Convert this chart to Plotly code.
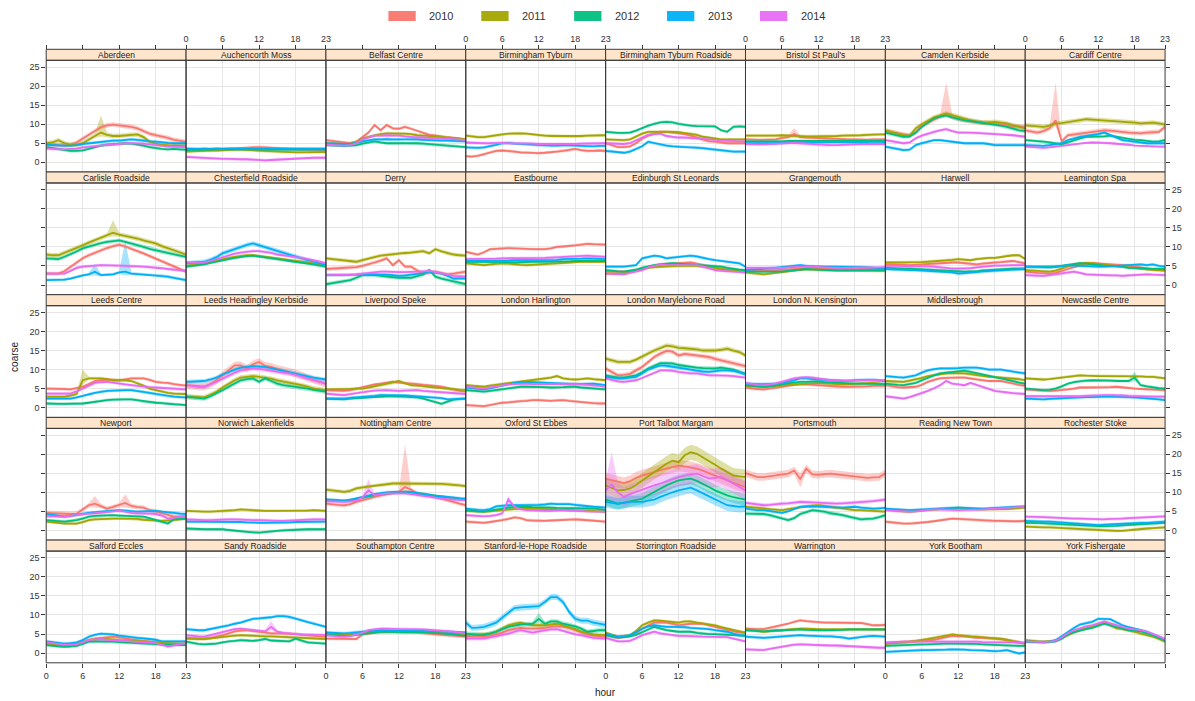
import plotly.graph_objects as go

W, H = 1195, 701
hours = list(range(24))
years = [2010, 2011, 2012, 2013, 2014]
year_colors = ["#F8766D", "#A3A500", "#00BF7D", "#00B0F6", "#E76BF3"]
x_ticks = [0, 6, 12, 18, 23]
y_ticks = [0, 5, 10, 15, 20, 25]

sites = [
    "Aberdeen", "Auchencorth Moss", "Belfast Centre", "Birmingham Tyburn",
    "Birmingham Tyburn Roadside", "Bristol St Paul's", "Camden Kerbside", "Cardiff Centre",
    "Carlisle Roadside", "Chesterfield Roadside", "Derry", "Eastbourne",
    "Edinburgh St Leonards", "Grangemouth", "Harwell", "Leamington Spa",
    "Leeds Centre", "Leeds Headingley Kerbside", "Liverpool Speke", "London Harlington",
    "London Marylebone Road", "London N. Kensington", "Middlesbrough", "Newcastle Centre",
    "Newport", "Norwich Lakenfields", "Nottingham Centre", "Oxford St Ebbes",
    "Port Talbot Margam", "Portsmouth", "Reading New Town", "Rochester Stoke",
    "Salford Eccles", "Sandy Roadside", "Southampton Centre", "Stanford-le-Hope Roadside",
    "Storrington Roadside", "Warrington", "York Bootham", "York Fishergate",
]

y2010 = {
    "Aberdeen": [4.8,4.6,4.5,4.4,4.6,5.2,6.2,7.4,8.4,9.2,9.7,9.9,9.7,9.5,9.3,8.9,8.2,7.5,7.1,6.8,6.4,5.9,5.6,5.4],
    "Auchencorth Moss": [3.4,3.4,3.3,3.3,3.4,3.5,3.5,3.6,3.6,3.7,3.8,3.9,4.0,3.9,3.8,3.6,3.5,3.4,3.3,3.3,3.3,3.3,3.2,3.2],
    "Belfast Centre": [5.8,5.6,5.4,5.1,5.0,5.4,6.6,7.8,9.8,8.4,9.8,8.9,8.8,9.3,8.8,8.2,7.8,7.2,7.0,6.7,6.5,6.4,6.2,6.0],
    "Birmingham Tyburn": [1.6,1.5,1.7,2.1,2.7,3.0,3.1,3.0,2.8,2.6,2.5,2.5,2.4,2.5,2.6,2.8,3.0,3.2,3.5,3.2,3.0,3.0,3.1,3.0],
    "Birmingham Tyburn Roadside": [5.0,4.4,4.0,4.0,4.2,5.0,6.2,7.0,7.5,8.0,8.0,7.8,7.6,7.4,7.0,6.5,5.8,5.5,5.4,5.2,5.0,5.0,5.0,5.0],
    "Bristol St Paul's": [6.0,5.9,5.9,5.9,6.0,6.0,6.4,6.6,7.4,6.6,6.5,6.4,6.4,6.3,6.2,6.1,6.0,6.0,6.0,5.9,5.9,6.0,6.0,6.0],
    "Camden Kerbside": [8.2,7.9,7.6,7.3,7.0,7.8,9.6,10.4,11.3,12.0,12.8,11.9,11.4,11.0,10.8,10.6,10.4,10.3,10.2,9.9,9.7,9.5,9.4,9.3],
    "Cardiff Centre": [8.4,8.0,7.8,8.2,8.9,11.0,5.5,7.1,7.3,7.6,7.8,7.9,8.1,8.4,8.3,8.1,8.0,7.8,7.7,7.6,7.8,7.9,8.0,9.3],
    "Carlisle Roadside": [3.0,3.0,3.0,3.6,4.8,6.0,7.0,7.8,8.5,9.1,9.7,10.2,10.6,10.1,9.6,8.9,8.3,7.6,7.0,6.3,5.7,4.9,4.2,3.5],
    "Chesterfield Roadside": None,
    "Derry": [4.2,4.3,4.3,4.4,4.5,4.7,5.0,5.4,5.9,6.4,7.0,5.2,6.5,4.8,4.8,3.8,3.0,3.2,3.5,3.1,2.8,3.0,3.3,3.5],
    "Eastbourne": [8.7,8.3,8.0,8.6,9.4,9.5,9.6,9.7,9.6,9.5,9.4,9.4,9.4,9.4,9.6,10.0,10.1,10.2,10.4,10.6,10.8,10.7,10.6,10.6],
    "Edinburgh St Leonards": [3.5,3.5,3.5,3.5,3.6,3.9,4.3,4.8,5.1,5.4,5.5,5.6,5.7,5.8,5.9,5.6,5.2,4.9,4.5,4.2,3.9,3.8,3.7,3.7],
    "Grangemouth": [3.7,3.7,3.7,3.7,3.8,3.9,4.0,4.1,4.3,4.4,4.5,4.5,4.4,4.4,4.3,4.3,4.3,4.4,4.4,4.4,4.5,4.4,4.3,4.2],
    "Harwell": [5.4,5.4,5.3,5.3,5.2,5.3,5.5,5.6,5.7,5.8,5.8,5.9,5.9,5.7,5.5,5.4,5.6,5.8,5.9,6.0,6.2,6.3,6.0,5.7],
    "Leamington Spa": [3.5,3.3,3.2,3.1,3.0,3.2,3.6,4.2,4.7,5.2,5.5,5.7,5.6,5.6,5.5,5.4,5.3,5.1,4.8,4.6,4.2,4.0,3.8,3.7],
    "Leeds Centre": [5.0,5.0,4.9,4.9,4.8,5.1,5.5,6.2,7.0,7.2,7.4,7.3,7.2,7.4,7.7,7.7,7.7,7.3,6.8,6.6,6.5,6.2,5.9,5.8],
    "Leeds Headingley Kerbside": [5.9,5.7,5.6,5.5,6.2,7.2,8.5,9.8,11.1,11.1,10.3,11.4,12.0,11.0,10.7,10.2,9.8,9.4,9.0,8.4,7.7,7.2,6.8,6.3],
    "Liverpool Speke": [4.6,4.5,4.4,4.4,4.6,5.0,5.4,5.9,6.1,6.3,6.6,6.8,6.6,6.5,6.3,6.2,6.0,5.9,5.7,5.5,5.1,4.6,4.4,4.2],
    "London Harlington": [0.7,0.6,0.5,0.4,0.7,1.1,1.3,1.4,1.6,1.7,1.8,2.0,2.0,1.9,1.8,1.9,2.0,1.8,1.6,1.5,1.3,1.2,1.1,1.1],
    "London Marylebone Road": [10.3,9.3,8.5,8.6,8.9,9.8,10.7,12.0,13.3,14.2,14.9,14.7,13.7,14.1,13.9,13.7,13.5,13.3,12.8,12.4,12.0,11.6,11.2,10.9],
    "London N. Kensington": [5.3,5.0,4.9,4.8,5.0,5.2,5.5,5.8,6.0,6.2,6.1,6.0,5.9,5.8,5.7,5.5,5.5,5.5,5.5,5.5,5.6,5.7,5.7,5.7],
    "Middlesbrough": [5.9,5.6,5.4,5.3,5.4,5.5,6.0,6.8,7.3,7.7,7.8,7.9,7.9,7.9,7.7,7.4,7.2,7.0,7.0,7.0,6.7,6.3,6.0,5.7],
    "Newcastle Centre": [4.8,4.7,4.5,4.4,4.4,4.5,4.6,4.8,5.0,5.3,5.3,5.3,5.3,5.4,5.4,5.5,5.3,5.2,5.0,4.9,4.8,4.8,4.7,4.6],
    "Newport": [4.6,4.5,4.4,4.3,4.3,4.4,5.5,6.6,7.0,6.4,5.7,6.2,6.6,7.2,6.4,6.1,6.0,5.3,5.0,4.6,4.1,3.6,3.6,3.7],
    "Norwich Lakenfields": None,
    "Nottingham Centre": [7.0,6.8,6.7,6.6,6.9,7.5,8.0,8.4,8.8,9.2,9.5,9.8,10.1,11.4,10.7,9.7,9.5,9.2,8.8,8.3,7.9,7.5,7.0,6.6],
    "Oxford St Ebbes": [2.3,2.2,2.1,2.0,2.2,2.4,2.7,3.0,3.4,3.2,2.7,2.6,2.5,2.5,2.6,2.7,2.8,2.9,2.9,2.8,2.7,2.6,2.5,2.3],
    "Port Talbot Margam": [13.6,13.2,12.7,12.4,12.9,13.8,14.4,14.8,15.3,15.8,16.2,16.6,17.0,16.8,16.6,16.2,15.7,15.1,14.4,13.8,13.1,12.4,11.8,11.4],
    "Portsmouth": [15.0,14.5,14.0,14.0,14.2,14.4,14.7,14.9,15.7,13.5,16.2,14.7,14.6,14.8,14.9,14.7,14.5,14.4,14.2,14.0,13.8,13.9,14.0,15.0],
    "Reading New Town": [2.3,2.1,1.9,1.8,1.8,1.9,2.0,2.2,2.4,2.7,2.9,3.1,3.0,2.9,2.8,2.7,2.6,2.5,2.5,2.5,2.4,2.4,2.4,2.5],
    "Rochester Stoke": None,
    "Salford Eccles": [2.3,2.1,1.9,1.7,1.8,2.1,2.7,3.4,3.8,4.0,4.2,4.3,4.1,3.8,3.6,3.4,3.2,3.0,2.8,2.5,2.4,2.3,2.3,2.3],
    "Sandy Roadside": [4.0,3.9,3.8,3.8,4.0,4.3,4.7,5.2,5.7,5.9,6.0,5.8,5.6,5.4,5.2,5.2,5.2,5.1,5.0,4.8,4.7,4.5,4.4,4.3],
    "Southampton Centre": [3.8,3.8,3.7,3.7,3.7,3.7,4.9,5.2,5.4,5.5,5.6,5.6,5.5,5.4,5.4,5.4,5.3,5.1,4.9,4.8,4.6,4.5,4.4,4.3],
    "Stanford-le-Hope Roadside": [4.3,4.3,4.3,4.3,4.5,4.9,5.4,6.0,6.3,6.6,6.5,6.4,6.5,6.6,6.9,7.1,6.9,6.6,6.0,5.4,4.9,4.6,4.4,4.3],
    "Storrington Roadside": [4.7,4.4,4.0,4.2,4.5,5.3,6.4,7.2,8.0,8.1,8.0,7.7,7.3,7.5,7.7,7.7,7.7,7.3,6.9,6.4,6.0,5.7,5.4,5.3],
    "Warrington": [6.4,6.3,6.3,6.3,6.6,6.9,7.3,7.7,8.2,8.6,8.4,8.2,8.1,8.0,8.0,8.0,8.0,8.0,7.9,7.9,7.6,7.3,7.3,7.4],
    "York Bootham": [2.5,2.6,2.7,2.8,2.9,3.0,3.1,3.3,3.5,3.8,4.2,4.5,4.4,4.4,4.2,4.0,4.0,3.9,3.8,3.7,3.4,3.2,2.9,2.6],
    "York Fishergate": None,
}

y2011 = {
    "Aberdeen": [5.0,5.2,5.8,5.0,4.6,4.6,5.0,6.0,7.0,7.8,7.2,6.9,6.9,7.0,7.2,7.3,6.6,5.4,4.9,4.6,4.5,4.5,4.4,4.4],
    "Auchencorth Moss": [2.8,2.9,3.0,3.0,3.1,3.1,3.2,3.3,3.3,3.3,3.2,3.1,3.0,3.0,2.9,2.8,2.7,2.6,2.6,2.6,2.6,2.7,2.7,2.7],
    "Belfast Centre": [5.0,4.9,4.9,4.8,4.9,5.3,6.3,6.7,7.0,7.4,7.6,7.6,7.5,7.5,7.4,7.1,7.0,6.9,6.9,6.7,6.5,6.4,6.2,6.0],
    "Birmingham Tyburn": [7.0,6.8,6.6,6.6,6.9,7.1,7.3,7.5,7.6,7.6,7.5,7.3,7.1,7.0,6.9,6.9,6.8,6.8,6.8,6.9,7.0,7.0,7.1,7.1],
    "Birmingham Tyburn Roadside": [6.0,5.9,5.8,5.8,6.0,6.8,7.5,8.0,8.0,8.1,8.0,8.0,7.9,7.6,7.5,7.2,6.7,6.4,6.2,6.0,6.0,6.0,6.0,6.0],
    "Bristol St Paul's": [7.0,7.0,6.9,6.9,7.0,7.0,7.1,7.0,6.9,6.8,6.8,6.8,6.8,6.8,6.8,6.9,7.0,7.0,7.1,7.1,7.2,7.3,7.3,7.3],
    "Camden Kerbside": [8.4,8.0,7.5,7.1,7.0,8.9,10.0,11.0,11.8,12.3,12.8,12.4,11.9,11.4,11.0,10.7,10.4,10.5,10.6,10.4,10.2,9.7,9.3,8.9],
    "Cardiff Centre": [9.7,9.6,9.5,9.3,9.6,10.2,10.3,10.6,10.8,11.0,11.3,11.2,11.1,11.0,10.9,10.8,10.6,10.5,10.4,10.2,10.3,10.4,10.2,9.9],
    "Carlisle Roadside": [8.0,7.8,7.8,8.4,9.1,9.8,10.4,11.1,11.7,12.4,13.0,13.7,13.2,12.9,12.6,12.2,11.7,11.3,10.9,10.2,9.6,9.0,8.5,8.0],
    "Chesterfield Roadside": [5.0,5.2,5.5,5.7,6.0,6.4,6.8,7.1,7.4,7.7,7.8,7.8,7.6,7.4,7.1,6.9,6.7,6.5,6.3,6.1,5.9,5.6,5.4,5.2],
    "Derry": [7.0,6.8,6.6,6.5,6.3,6.1,6.5,7.0,7.3,7.7,7.9,8.1,8.3,8.4,8.5,8.7,8.9,8.3,9.4,8.8,8.3,8.0,7.8,7.7],
    "Eastbourne": [5.7,5.5,5.4,5.2,5.4,5.6,5.7,5.6,5.4,5.3,5.2,5.3,5.4,5.5,5.7,5.7,5.8,5.9,6.1,6.1,6.1,6.1,6.1,6.1],
    "Edinburgh St Leonards": [3.0,3.0,3.0,3.0,3.4,3.8,4.2,4.5,4.7,4.8,4.9,5.0,5.0,5.0,5.0,5.0,4.8,4.6,4.3,4.1,4.0,3.9,3.7,3.5],
    "Grangemouth": [3.3,3.1,2.9,2.8,3.0,3.2,3.5,3.7,3.9,4.1,4.2,4.1,4.0,4.0,3.9,3.9,3.9,3.9,3.9,3.8,3.8,3.8,3.7,3.7],
    "Harwell": [5.9,5.9,5.9,5.9,5.9,6.0,6.0,6.1,6.2,6.3,6.5,6.6,6.8,6.7,6.5,6.8,7.0,7.1,7.1,7.3,7.7,7.8,7.8,6.8],
    "Leamington Spa": [3.9,3.8,3.7,3.7,3.5,3.8,4.3,5.0,5.4,5.6,5.8,5.7,5.5,5.3,5.1,5.0,4.8,4.6,4.5,4.3,4.1,4.0,3.9,3.9],
    "Leeds Centre": [2.9,2.9,2.9,2.9,3.2,3.6,7.2,7.7,7.7,7.7,7.5,7.2,7.2,7.2,7.0,6.5,5.8,5.0,4.6,4.2,3.9,3.7,3.6,3.6],
    "Leeds Headingley Kerbside": [2.9,2.8,2.7,2.7,3.4,4.2,5.3,6.3,7.2,7.9,8.1,8.3,8.1,7.9,7.6,7.2,6.9,6.5,6.2,5.9,5.5,5.0,4.8,4.6],
    "Liverpool Speke": [4.8,4.8,4.8,4.8,4.9,5.0,5.0,5.3,5.6,5.9,6.2,6.5,7.0,6.4,5.9,5.8,5.7,5.5,5.3,5.2,5.0,4.9,4.7,4.6],
    "London Harlington": [5.9,5.8,5.6,5.5,5.8,6.0,6.3,6.5,6.6,6.8,7.0,7.2,7.4,7.6,7.9,8.3,7.7,7.5,7.4,7.5,7.7,7.5,7.3,7.2],
    "London Marylebone Road": [12.9,12.4,12.0,12.0,12.0,12.6,13.3,14.2,15.0,15.7,16.3,16.1,15.7,15.6,15.5,15.3,15.0,15.0,15.0,15.2,15.5,15.0,14.6,13.7],
    "London N. Kensington": [5.7,5.6,5.6,5.5,5.6,5.7,5.8,6.0,6.1,6.2,6.3,6.4,6.5,6.4,6.3,6.1,6.1,6.2,6.3,6.4,6.4,6.5,6.3,6.1],
    "Middlesbrough": [7.0,6.9,6.8,6.8,7.1,7.4,7.8,8.3,8.6,8.8,9.0,9.1,9.1,9.0,8.8,8.5,8.3,8.1,8.0,7.9,7.8,7.7,7.5,7.2],
    "Newcastle Centre": [7.7,7.6,7.5,7.4,7.5,7.7,7.9,8.1,8.3,8.5,8.4,8.3,8.3,8.3,8.3,8.3,8.3,8.3,8.3,8.2,8.1,8.1,7.9,7.7],
    "Newport": [2.3,2.1,2.0,1.8,1.8,1.8,2.2,2.7,2.9,3.0,3.1,3.1,3.1,3.1,3.1,3.0,2.8,2.7,2.6,2.5,2.6,2.7,2.9,3.1],
    "Norwich Lakenfields": [5.1,5.0,5.0,4.9,4.9,5.0,5.0,5.1,5.3,5.5,5.4,5.2,5.1,5.1,5.1,5.1,5.1,5.1,5.1,5.2,5.2,5.3,5.2,5.1],
    "Nottingham Centre": [10.7,10.5,10.3,10.1,10.4,11.0,11.3,11.5,11.8,12.0,12.1,12.3,12.3,12.3,12.3,12.3,12.3,12.3,12.2,12.2,12.1,12.0,11.8,11.6],
    "Oxford St Ebbes": [5.1,5.0,4.9,4.9,5.0,5.2,5.4,5.5,5.6,5.7,5.7,5.7,5.7,5.6,5.6,5.5,5.4,5.3,5.3,5.2,5.2,5.1,5.0,4.9],
    "Port Talbot Margam": [11.8,11.2,10.5,10.6,11.0,11.9,13.1,14.2,15.3,16.4,17.5,18.3,17.9,19.7,20.5,20.1,19.2,18.3,17.2,16.2,15.3,14.4,14.2,14.0],
    "Portsmouth": [6.2,6.1,6.0,5.8,5.6,5.4,5.3,5.6,5.9,6.1,6.3,6.5,6.6,6.4,6.2,6.0,5.7,5.5,5.3,5.3,5.2,5.2,5.0,4.9],
    "Reading New Town": [5.5,5.3,5.1,5.0,4.9,5.0,5.2,5.4,5.5,5.6,5.7,5.8,5.9,5.8,5.6,5.5,5.5,5.5,5.6,5.6,5.6,5.7,5.8,6.0],
    "Rochester Stoke": [1.0,0.9,0.9,0.8,0.8,0.7,0.6,0.6,0.5,0.4,0.3,0.2,0.1,0.0,-0.1,-0.1,-0.1,0.1,0.3,0.4,0.5,0.6,0.7,0.8],
    "Salford Eccles": [2.5,2.4,2.3,2.2,2.3,2.4,2.9,3.4,3.6,3.8,3.7,3.5,3.4,3.3,3.2,3.1,3.0,2.9,2.8,2.7,2.6,2.5,2.5,2.5],
    "Sandy Roadside": [3.8,3.7,3.7,3.7,3.9,4.1,4.3,4.5,4.6,4.7,4.6,4.5,4.5,4.4,4.4,4.3,4.3,4.2,4.1,4.0,3.9,3.8,3.8,3.7],
    "Southampton Centre": [4.9,4.9,4.8,4.8,4.9,5.1,5.3,5.5,5.6,5.6,5.6,5.6,5.6,5.6,5.6,5.6,5.5,5.4,5.3,5.2,5.1,5.0,5.0,4.9],
    "Stanford-le-Hope Roadside": [4.7,4.8,4.9,4.9,5.1,5.6,6.4,7.3,7.7,8.0,7.6,7.3,7.3,7.3,7.5,7.7,7.3,6.9,6.3,5.6,5.2,4.9,4.8,4.7],
    "Storrington Roadside": [5.4,4.8,4.3,4.5,4.7,5.8,7.3,8.0,8.6,8.5,8.3,8.1,8.0,8.3,8.3,8.0,7.7,7.5,7.3,6.8,6.4,6.0,5.6,5.4],
    "Warrington": [6.3,6.0,5.8,5.6,5.8,6.0,6.0,6.2,6.3,6.4,6.4,6.3,6.2,6.2,6.2,6.2,6.2,6.2,6.2,6.2,6.2,6.2,6.2,6.2],
    "York Bootham": [2.5,2.6,2.7,2.8,3.0,3.2,3.4,3.7,4.0,4.3,4.6,4.9,4.7,4.5,4.4,4.3,4.1,4.0,3.9,3.8,3.5,3.1,2.8,2.5],
    "York Fishergate": [3.4,3.2,3.1,3.0,3.1,3.2,3.9,4.7,5.4,6.0,6.5,6.8,7.4,8.0,7.3,6.5,6.3,6.0,5.6,5.1,4.7,4.3,3.7,3.0],
}

y2012 = {
    "Aberdeen": [4.0,3.8,3.5,3.2,3.0,3.0,3.1,3.5,4.0,4.4,4.6,4.7,4.8,5.0,4.9,4.7,4.4,4.0,3.7,3.5,3.4,3.5,3.4,3.3],
    "Auchencorth Moss": [3.2,3.2,3.3,3.3,3.3,3.4,3.4,3.4,3.5,3.5,3.4,3.4,3.3,3.3,3.3,3.3,3.2,3.2,3.2,3.2,3.3,3.3,3.3,3.3],
    "Belfast Centre": [4.5,4.4,4.4,4.3,4.4,4.5,4.9,5.2,5.5,5.2,5.0,5.0,5.0,5.1,5.0,5.0,4.9,4.7,4.6,4.5,4.4,4.2,4.1,4.0],
    "Birmingham Tyburn": None,
    "Birmingham Tyburn Roadside": [8.0,7.8,7.7,7.7,7.8,8.3,9.0,9.6,10.1,10.5,10.6,10.5,10.1,9.8,9.6,9.5,9.5,9.5,9.4,8.4,8.0,9.3,9.4,9.3],
    "Bristol St Paul's": [5.5,5.5,5.4,5.4,5.4,5.5,5.5,5.6,5.6,5.6,5.6,5.5,5.5,5.5,5.5,5.5,5.5,5.6,5.6,5.6,5.6,5.6,5.6,5.6],
    "Camden Kerbside": [7.8,7.4,7.0,6.7,6.8,7.8,9.3,10.5,11.5,12.0,12.3,11.8,11.3,11.0,10.8,10.6,10.4,10.1,9.9,9.6,9.3,8.8,8.4,8.2],
    "Cardiff Centre": [5.8,5.7,5.6,5.4,5.2,5.0,4.7,5.2,5.8,6.3,6.7,6.7,6.7,6.8,7.0,6.7,6.3,6.0,5.9,5.8,5.6,5.4,5.5,5.8],
    "Carlisle Roadside": [7.0,6.9,6.8,7.4,8.0,8.8,9.6,10.1,10.6,11.0,11.3,11.5,11.7,11.3,10.9,10.4,10.0,9.5,9.1,8.7,8.3,8.0,7.7,7.4],
    "Chesterfield Roadside": [4.8,5.0,5.2,5.4,5.8,6.2,6.5,6.8,7.1,7.4,7.6,7.7,7.5,7.2,7.0,6.8,6.6,6.3,6.1,5.9,5.7,5.4,5.1,4.8],
    "Derry": [0.2,0.5,0.7,1.0,1.3,1.9,2.6,2.6,2.6,2.4,2.2,2.0,1.9,1.9,1.9,2.3,2.8,3.9,2.2,1.7,1.3,0.8,0.4,0.2],
    "Eastbourne": [6.1,6.1,6.1,6.1,6.1,6.0,6.0,6.0,5.9,6.0,6.0,6.1,6.1,6.1,6.1,6.2,6.2,6.2,6.3,6.3,6.4,6.3,6.3,6.3],
    "Edinburgh St Leonards": [3.9,3.7,3.6,3.5,3.7,4.0,4.5,4.9,5.2,5.4,5.6,5.7,5.6,5.5,5.4,5.3,5.3,5.2,5.0,4.8,4.5,4.2,4.0,3.9],
    "Grangemouth": [3.5,3.5,3.4,3.4,3.4,3.4,3.5,3.7,3.9,4.1,4.2,4.1,4.0,3.9,3.8,3.8,3.8,3.8,3.8,3.8,3.9,3.9,3.9,3.9],
    "Harwell": [4.5,4.4,4.4,4.3,4.3,4.2,4.1,4.0,3.9,3.9,3.7,3.6,3.5,3.5,3.6,3.6,3.8,3.9,4.1,4.2,4.3,4.3,4.3,4.3],
    "Leamington Spa": [4.8,4.8,4.8,4.8,4.8,4.9,5.0,5.2,5.4,5.7,5.6,5.4,5.3,5.1,5.0,4.9,4.8,4.5,4.5,4.4,4.3,4.3,4.2,4.2],
    "Leeds Centre": [1.1,1.0,1.0,1.0,1.0,1.1,1.1,1.3,1.6,1.8,2.0,2.1,2.2,2.2,2.2,2.0,1.6,1.5,1.3,1.2,1.0,0.9,0.8,0.7],
    "Leeds Headingley Kerbside": [2.9,2.7,2.5,2.4,3.0,3.7,4.6,5.5,6.4,7.2,7.5,7.7,6.8,7.7,7.0,6.3,5.9,5.7,5.5,5.2,5.0,4.7,4.4,4.2],
    "Liverpool Speke": [2.4,2.3,2.2,2.2,2.4,2.5,2.7,2.8,2.9,3.0,3.0,3.0,3.0,2.9,2.8,2.7,2.4,2.0,1.5,1.0,1.6,2.1,2.3,2.4],
    "London Harlington": [4.6,4.5,4.3,4.2,4.4,4.6,4.8,5.0,5.3,5.5,5.5,5.5,5.5,5.4,5.3,5.3,5.4,5.5,5.5,5.3,5.2,5.0,4.9,4.8],
    "London Marylebone Road": [8.5,8.2,7.9,7.9,8.2,8.5,9.3,10.3,11.0,11.7,11.7,11.6,11.2,10.9,10.7,10.5,10.4,10.3,10.3,10.5,10.3,10.0,9.4,8.9],
    "London N. Kensington": [5.9,5.7,5.6,5.5,5.6,5.8,6.1,6.4,6.6,6.8,6.8,6.8,6.9,6.7,6.6,6.4,6.4,6.3,6.3,6.3,6.3,6.3,6.2,6.2],
    "Middlesbrough": [6.3,6.1,6.0,5.9,6.2,6.5,7.2,7.9,8.5,9.0,9.2,9.4,9.6,9.7,9.4,9.0,8.6,8.3,8.0,7.7,7.4,7.0,6.6,6.3],
    "Newcastle Centre": [5.0,4.8,4.7,4.6,4.7,5.0,5.6,6.3,6.7,7.0,7.1,7.2,7.2,7.2,7.1,7.0,7.0,7.0,7.9,5.9,5.6,5.3,5.1,5.0],
    "Newport": [2.7,2.6,2.4,2.3,2.5,2.7,3.1,3.6,3.8,3.9,4.0,4.0,3.9,3.8,3.8,3.7,3.6,3.2,2.7,2.2,1.8,2.9,3.0,3.1],
    "Norwich Lakenfields": [0.5,0.4,0.3,0.3,0.3,0.3,0.3,0.1,-0.1,-0.3,-0.4,-0.5,-0.6,-0.4,-0.2,-0.1,0.0,0.1,0.1,0.2,0.3,0.3,0.3,0.3],
    "Nottingham Centre": [8.1,8.0,7.9,7.8,8.0,8.2,8.6,8.9,9.2,9.5,9.7,9.8,10.0,10.1,10.0,9.8,9.5,9.3,9.0,8.8,8.6,8.4,8.2,8.1],
    "Oxford St Ebbes": [5.3,5.1,5.0,4.9,5.2,5.5,5.8,6.0,6.1,6.2,6.2,6.1,6.1,6.0,6.0,5.9,5.9,5.9,5.9,5.8,5.8,5.7,5.6,5.3],
    "Port Talbot Margam": [8.1,7.5,7.0,7.3,7.7,8.0,8.3,9.2,10.1,11.0,11.8,12.5,13.1,13.4,13.6,13.0,12.3,11.4,10.5,9.8,9.2,8.7,8.3,8.1],
    "Portsmouth": [4.4,4.4,4.3,4.3,4.0,3.6,3.2,2.7,3.2,4.3,4.8,5.3,5.1,4.9,4.5,4.3,4.0,3.6,3.2,2.9,3.0,3.1,3.5,4.0],
    "Reading New Town": None,
    "Rochester Stoke": [2.0,2.0,1.9,1.9,1.8,1.7,1.6,1.5,1.4,1.3,1.2,1.2,1.1,1.1,1.1,1.2,1.3,1.4,1.5,1.6,1.7,1.8,1.9,2.0],
    "Salford Eccles": [2.1,1.9,1.8,1.7,1.8,1.9,2.4,3.0,3.1,3.1,3.1,3.0,2.9,2.8,2.7,2.6,2.5,2.4,2.3,2.2,2.1,2.1,2.1,2.1],
    "Sandy Roadside": [3.0,2.6,2.4,2.3,2.4,2.5,2.8,3.1,3.2,3.4,3.3,3.2,3.4,3.7,3.3,3.2,3.1,3.1,3.8,3.2,2.8,2.7,2.6,2.5],
    "Southampton Centre": [4.9,4.7,4.6,4.5,4.6,4.8,4.9,5.2,5.4,5.6,5.6,5.5,5.5,5.5,5.6,5.6,5.5,5.4,5.3,5.2,5.0,4.9,4.7,4.5],
    "Stanford-le-Hope Roadside": [5.1,4.9,4.8,4.7,5.1,5.6,6.3,6.9,7.2,7.5,7.6,7.7,9.0,7.7,8.3,8.3,7.7,7.4,7.0,6.4,5.6,5.8,6.0,6.0],
    "Storrington Roadside": [4.7,4.3,4.1,4.2,4.4,4.8,5.4,6.2,6.9,6.4,6.0,5.8,5.6,5.6,5.6,5.3,5.1,5.0,5.0,4.9,4.9,4.8,4.7,4.5],
    "Warrington": [6.0,5.9,5.8,5.7,5.8,5.9,6.0,6.1,6.2,6.2,6.1,6.0,6.0,6.0,6.0,6.0,6.1,6.2,6.2,6.2,6.2,6.2,6.2,6.2],
    "York Bootham": [1.9,2.0,2.0,2.1,2.1,2.2,2.3,2.3,2.4,2.5,2.5,2.5,2.5,2.5,2.4,2.4,2.3,2.2,2.1,2.1,2.0,1.9,1.9,1.9],
    "York Fishergate": [3.0,2.9,2.9,2.9,3.0,3.1,3.8,4.9,5.5,6.0,6.3,6.6,7.1,7.7,7.3,6.8,6.4,6.0,5.9,5.7,5.2,4.7,4.0,3.3],
}

y2013 = {
    "Aberdeen": [4.6,4.5,4.5,4.4,4.4,4.5,4.8,5.0,5.2,5.4,5.6,5.7,5.7,5.8,6.0,5.9,5.6,5.5,5.4,5.2,5.1,5.0,5.0,5.0],
    "Auchencorth Moss": [3.6,3.5,3.5,3.6,3.5,3.6,3.5,3.6,3.6,3.5,3.6,3.5,3.5,3.6,3.5,3.5,3.5,3.6,3.5,3.5,3.6,3.6,3.5,3.6],
    "Belfast Centre": [5.0,4.9,4.9,4.8,4.9,5.1,5.5,5.8,6.0,6.0,6.1,6.0,6.0,6.1,6.0,6.0,5.9,5.8,5.8,5.7,5.7,5.6,5.5,5.5],
    "Birmingham Tyburn": [3.9,3.8,3.8,3.9,4.2,4.6,5.0,5.1,4.9,4.8,4.7,4.6,4.5,4.5,4.4,4.4,4.5,4.5,4.4,4.3,4.3,4.2,4.3,4.3],
    "Birmingham Tyburn Roadside": [3.0,2.8,2.6,2.5,2.8,3.4,4.2,5.4,5.0,4.6,4.4,4.2,4.1,4.0,4.0,3.9,3.7,3.5,3.3,3.1,2.9,2.8,2.8,2.8],
    "Bristol St Paul's": [5.0,5.0,4.9,4.9,5.0,5.0,5.2,5.3,5.3,5.4,5.3,5.3,5.2,5.2,5.3,5.3,5.3,5.3,5.3,5.3,5.3,5.4,5.4,5.3],
    "Camden Kerbside": [4.1,3.8,3.5,3.2,3.3,4.5,5.0,5.4,5.8,5.8,5.6,5.4,5.2,5.0,5.0,5.0,5.0,4.8,4.5,4.5,4.5,4.5,4.5,4.5],
    "Cardiff Centre": [4.5,4.4,4.3,4.3,4.5,4.7,5.0,5.8,6.3,6.7,6.9,7.1,7.4,7.8,7.1,6.5,5.8,5.6,5.4,5.2,5.0,5.0,5.0,5.0],
    "Carlisle Roadside": [1.3,1.3,1.3,1.4,1.7,2.2,2.5,2.8,3.5,2.6,2.7,2.8,3.3,3.5,3.0,2.9,2.8,2.7,2.6,2.4,2.2,1.9,1.6,1.3],
    "Chesterfield Roadside": [5.7,5.8,6.0,6.1,6.6,7.3,8.3,8.9,9.4,10.0,10.5,10.9,10.4,10.0,9.4,8.9,8.4,7.8,7.4,7.0,6.5,6.1,5.7,5.2],
    "Derry": [2.6,2.6,2.6,2.6,2.7,2.7,2.8,2.8,2.8,2.8,2.7,2.6,2.4,2.5,2.7,2.8,3.1,3.5,3.2,3.0,2.4,1.7,1.7,1.7],
    "Eastbourne": [6.3,6.3,6.3,6.3,6.3,6.4,6.4,6.4,6.5,6.5,6.5,6.5,6.5,6.5,6.6,6.6,6.8,6.8,6.9,6.9,7.0,6.9,6.8,6.8],
    "Edinburgh St Leonards": [4.8,4.8,4.8,4.8,5.0,5.2,7.0,7.3,7.7,7.5,7.0,7.2,7.4,7.6,7.7,7.5,7.1,6.8,6.5,6.3,6.1,5.9,5.7,4.8],
    "Grangemouth": [3.9,4.0,4.1,4.2,4.3,4.5,4.7,4.9,5.1,5.2,5.0,4.9,4.8,4.8,4.8,4.8,4.8,4.8,4.8,4.7,4.6,4.5,4.4,4.3],
    "Harwell": [4.2,4.1,4.0,4.0,3.9,3.9,3.8,3.7,3.6,3.5,3.5,3.3,3.0,3.1,3.3,3.4,3.6,3.7,3.8,3.9,3.9,4.0,4.1,4.2],
    "Leamington Spa": [4.8,4.7,4.7,4.6,4.6,4.7,4.9,5.2,5.1,5.0,4.9,4.9,4.8,4.8,4.9,5.0,5.0,5.1,5.2,5.4,5.2,5.4,5.0,4.8],
    "Leeds Centre": [2.4,2.4,2.4,2.4,2.4,2.7,3.0,3.5,3.9,4.2,4.4,4.5,4.6,4.6,4.6,4.4,4.2,3.9,3.6,3.3,3.0,2.9,2.8,2.7],
    "Leeds Headingley Kerbside": [6.8,6.9,7.0,7.0,7.4,7.9,8.7,9.4,10.0,10.5,10.7,10.9,10.8,10.7,10.4,10.0,9.7,9.4,9.0,8.5,8.2,7.9,7.6,7.4],
    "Liverpool Speke": [2.4,2.4,2.4,2.4,2.6,2.7,2.9,3.0,3.1,3.3,3.3,3.3,3.3,3.2,3.1,3.0,2.9,2.8,2.7,2.5,2.2,2.3,2.4,2.4],
    "London Harlington": [5.3,5.1,4.9,4.8,5.1,5.5,5.9,6.2,6.5,6.7,6.8,6.7,6.6,6.5,6.4,6.4,6.3,6.3,6.2,6.2,6.3,6.3,6.1,5.9],
    "London Marylebone Road": [8.1,7.9,7.7,7.7,7.9,8.1,9.0,10.0,10.6,11.1,11.0,10.7,10.5,10.3,10.0,9.7,9.5,9.4,9.6,9.8,9.8,9.7,9.3,8.8],
    "London N. Kensington": [6.3,6.2,6.2,6.2,6.2,6.3,6.5,6.8,7.2,7.7,7.7,7.5,7.4,7.3,7.1,7.0,7.0,7.1,7.2,7.3,7.3,7.3,7.1,7.0],
    "Middlesbrough": [8.3,8.1,8.0,7.9,8.2,8.5,9.2,9.8,10.1,10.3,10.3,10.3,10.4,10.5,10.5,10.5,10.3,10.0,10.0,10.0,9.7,9.4,9.2,9.0],
    "Newcastle Centre": [2.4,2.3,2.3,2.2,2.3,2.4,2.4,2.5,2.6,2.7,2.8,2.8,2.9,2.9,2.9,2.9,2.9,2.8,2.7,2.6,2.5,2.4,2.2,2.0],
    "Newport": [4.3,4.0,3.8,3.6,3.8,4.1,4.4,4.6,4.8,4.9,5.0,5.2,5.3,5.2,5.0,4.9,5.0,5.1,5.1,4.9,4.8,4.6,4.4,4.3],
    "Norwich Lakenfields": [2.3,2.3,2.3,2.3,2.3,2.3,2.3,2.3,2.3,2.2,2.1,2.0,2.0,2.0,2.0,2.0,2.0,2.1,2.2,2.2,2.3,2.3,2.3,2.3],
    "Nottingham Centre": [8.1,8.0,7.9,7.7,8.0,8.3,8.7,9.1,9.5,9.8,10.0,10.1,10.1,10.1,10.1,9.8,9.5,9.2,9.0,8.9,8.8,8.6,8.4,8.3],
    "Oxford St Ebbes": [5.7,5.5,5.4,5.3,5.6,6.3,6.5,6.6,6.6,6.6,6.6,6.6,6.7,6.8,7.0,6.9,6.9,6.9,6.7,6.5,6.3,6.2,6.1,6.0],
    "Port Talbot Margam": [7.5,7.2,7.0,7.2,7.5,7.5,7.5,7.8,8.1,8.8,9.5,10.0,10.5,10.9,11.2,10.5,9.7,8.9,8.1,7.3,6.6,6.4,6.2,6.3],
    "Portsmouth": [5.7,5.5,5.3,5.3,5.1,4.8,4.6,5.0,5.6,6.2,6.3,6.3,6.3,6.2,6.1,6.0,6.0,6.1,6.2,6.0,5.9,5.7,5.8,5.9],
    "Reading New Town": [5.7,5.6,5.5,5.4,5.3,5.4,5.5,5.6,5.7,5.7,5.8,5.9,6.0,5.9,5.8,5.8,5.7,5.8,5.9,5.9,6.0,6.1,6.2,6.3],
    "Rochester Stoke": [2.5,2.4,2.4,2.3,2.3,2.2,2.1,2.0,1.8,1.7,1.6,1.5,1.4,1.5,1.6,1.7,1.8,1.9,2.0,2.0,2.0,2.1,2.2,2.3],
    "Salford Eccles": [3.1,2.9,2.7,2.5,2.6,2.8,3.4,4.3,4.8,5.1,5.0,4.9,4.6,4.3,4.2,4.0,3.9,3.7,3.5,3.1,3.1,3.1,3.1,3.1],
    "Sandy Roadside": [6.3,6.1,6.0,6.0,6.3,6.6,7.0,7.3,7.7,8.0,8.5,9.0,9.1,9.2,9.4,9.7,9.7,9.5,9.1,8.6,8.1,7.7,7.3,6.9],
    "Southampton Centre": [5.4,5.3,5.2,5.2,5.3,5.5,5.6,5.8,5.9,6.0,6.0,5.9,5.8,5.9,6.0,6.0,5.9,5.8,5.7,5.6,5.6,5.5,5.4,5.4],
    "Stanford-le-Hope Roadside": [8.0,6.6,6.7,6.9,7.4,8.0,9.3,10.6,11.8,12.0,12.1,12.2,12.3,13.4,14.7,14.7,13.4,10.8,9.0,8.5,8.5,8.0,7.7,7.4],
    "Storrington Roadside": [5.1,4.6,4.3,4.4,4.7,5.5,6.4,7.0,7.3,7.1,6.9,6.9,6.9,6.8,6.6,6.5,6.5,6.3,6.0,5.8,5.6,5.1,4.7,4.6],
    "Warrington": [4.3,4.2,4.1,4.0,4.1,4.2,4.3,4.5,4.6,4.7,4.6,4.5,4.5,4.4,4.4,4.3,4.1,3.8,4.0,4.3,4.4,4.5,4.4,4.3],
    "York Bootham": [0.3,0.4,0.4,0.5,0.6,0.7,0.8,0.8,0.8,0.8,0.9,1.0,1.0,0.9,0.8,0.8,0.7,0.6,0.5,0.6,0.8,0.3,-0.1,0.2],
    "York Fishergate": [3.1,3.0,2.9,2.8,3.0,3.4,4.4,5.6,6.6,7.5,7.9,8.2,9.0,9.0,8.9,8.1,7.3,6.8,6.3,6.0,5.6,5.0,4.3,3.4],
}

y2014 = {
    "Aberdeen": [3.6,3.5,3.4,3.4,3.5,3.6,3.9,4.1,4.3,4.5,4.6,4.7,4.8,5.0,5.0,5.0,4.9,4.7,4.5,4.4,4.2,4.1,4.0,4.0],
    "Auchencorth Moss": [1.4,1.3,1.2,1.1,1.0,1.0,0.9,0.9,0.8,0.8,0.8,0.7,0.7,0.5,0.6,0.7,0.8,0.9,1.0,1.1,1.2,1.2,1.2,1.2],
    "Belfast Centre": [4.6,4.5,4.5,4.4,4.5,5.0,6.0,6.6,7.0,7.0,7.1,7.0,7.0,6.8,6.6,6.5,6.5,6.4,6.3,6.2,6.1,6.0,6.0,5.9],
    "Birmingham Tyburn": [5.2,5.1,5.0,5.0,5.0,5.1,5.1,5.0,5.0,5.0,4.9,4.9,4.8,4.8,4.8,4.7,4.8,4.8,4.8,4.9,4.9,5.0,5.0,5.0],
    "Birmingham Tyburn Roadside": [5.0,4.9,4.8,4.8,5.0,5.8,6.6,7.2,7.4,7.5,6.9,6.6,6.5,6.5,6.4,6.3,6.1,6.0,5.9,5.7,5.6,5.5,5.5,5.5],
    "Bristol St Paul's": [4.8,4.7,4.7,4.7,4.8,4.8,5.0,5.0,5.1,5.0,4.9,4.7,4.6,4.5,4.5,4.5,4.6,4.7,4.8,4.8,4.8,4.8,4.8,4.8],
    "Camden Kerbside": [5.8,5.5,5.2,5.0,5.2,6.3,7.0,7.6,8.0,8.4,8.7,8.2,7.8,7.8,7.8,7.7,7.6,7.5,7.5,7.4,7.3,7.1,6.9,6.7],
    "Cardiff Centre": [4.1,4.0,3.9,3.8,3.9,4.1,4.3,4.5,4.7,5.0,5.1,5.2,5.2,5.1,5.0,4.9,4.7,4.6,4.4,4.3,4.2,4.2,4.1,4.1],
    "Carlisle Roadside": [3.0,3.0,3.0,3.0,3.7,4.5,4.8,5.0,5.1,5.2,5.2,5.1,5.1,5.0,5.0,4.9,4.8,4.7,4.5,4.4,4.2,4.0,3.9,3.7],
    "Chesterfield Roadside": [5.9,5.9,5.9,5.9,6.3,6.8,7.4,7.8,8.2,8.5,8.7,8.9,8.9,8.7,8.4,8.0,7.8,7.6,7.4,7.1,6.8,6.5,6.1,5.7],
    "Derry": [2.6,2.6,2.6,2.6,2.7,2.8,3.0,3.1,3.3,3.5,3.5,3.4,3.4,3.4,3.4,3.5,3.6,3.7,3.4,3.0,2.7,2.4,2.3,2.2],
    "Eastbourne": [6.8,6.8,6.8,6.8,6.8,6.9,7.0,7.0,7.1,7.1,7.0,7.0,7.0,7.1,7.2,7.3,7.4,7.5,7.6,7.6,7.7,7.6,7.5,7.4],
    "Edinburgh St Leonards": [3.0,2.9,2.8,2.8,3.2,3.6,3.9,4.6,5.0,5.4,5.3,5.2,5.2,5.2,5.2,5.2,4.9,4.4,3.9,3.7,3.6,3.5,3.4,3.3],
    "Grangemouth": [4.5,4.5,4.5,4.4,4.4,4.4,4.5,4.6,4.7,4.7,4.8,4.8,4.7,4.6,4.6,4.5,4.5,4.5,4.5,4.5,4.5,4.6,4.6,4.7],
    "Harwell": [5.0,5.0,5.0,5.0,5.0,4.9,4.9,4.9,4.8,4.6,4.5,4.3,4.3,4.3,4.4,4.6,4.8,5.0,5.1,5.1,5.2,5.2,5.2,5.2],
    "Leamington Spa": [2.6,2.5,2.4,2.4,2.6,2.8,3.0,3.2,3.5,3.2,2.8,2.7,2.6,2.6,2.5,2.5,2.4,2.5,2.6,2.7,2.8,2.7,2.7,2.6],
    "Leeds Centre": [3.7,3.7,3.7,3.7,3.7,4.3,5.0,5.8,6.5,6.7,6.8,6.6,6.3,6.1,5.9,5.7,5.5,5.4,5.3,5.2,5.0,4.9,4.8,4.8],
    "Leeds Headingley Kerbside": [5.9,5.7,5.5,5.5,6.1,6.8,7.6,8.5,9.2,9.8,10.1,10.3,10.2,10.0,9.7,9.4,9.2,9.0,8.6,8.1,7.7,7.2,6.7,6.3],
    "Liverpool Speke": [3.7,3.5,3.4,3.3,3.6,3.9,4.2,4.3,4.5,4.6,4.6,4.5,4.4,4.5,4.6,4.6,4.4,4.3,4.2,4.1,4.0,3.9,3.7,3.6],
    "London Harlington": [5.5,5.3,5.1,5.0,5.3,5.6,5.9,6.1,6.2,6.3,6.3,6.2,6.2,6.2,6.2,6.3,6.3,6.2,6.2,6.1,6.0,5.9,5.7,5.5],
    "London Marylebone Road": [7.7,7.2,6.9,6.8,7.0,7.2,7.8,8.5,9.2,9.8,9.8,9.7,9.4,9.1,9.0,9.0,8.8,8.5,8.5,8.5,8.4,8.3,8.1,7.9],
    "London N. Kensington": [6.5,6.2,6.0,5.9,6.1,6.4,6.8,7.3,7.7,7.9,8.0,7.9,7.7,7.4,7.2,7.2,7.1,7.0,7.2,7.2,7.3,7.2,7.1,7.2],
    "Middlesbrough": [3.0,2.8,2.6,2.4,2.8,3.3,3.8,4.4,5.1,5.9,7.0,6.3,6.1,5.9,6.5,6.0,5.5,5.0,4.4,4.2,3.9,3.8,3.7,3.6],
    "Newcastle Centre": [3.0,3.0,2.9,2.9,2.9,3.0,3.0,3.0,3.0,3.0,3.1,3.2,3.3,3.3,3.3,3.3,3.2,3.1,3.0,3.0,2.9,2.9,2.9,2.9],
    "Newport": [3.7,3.7,3.7,3.6,3.8,4.0,4.3,4.4,4.5,4.6,4.8,5.0,5.1,4.9,4.6,4.5,4.5,4.4,4.3,3.9,3.1,3.4,3.6,3.7],
    "Norwich Lakenfields": [2.9,2.8,2.8,2.7,2.7,2.8,2.8,2.9,2.9,2.8,2.8,2.7,2.7,2.6,2.6,2.5,2.5,2.6,2.7,2.8,2.9,2.9,2.9,2.9],
    "Nottingham Centre": [7.7,7.6,7.5,7.5,7.6,7.8,8.6,10.5,9.2,9.5,9.7,9.7,9.7,9.7,9.5,9.3,9.0,8.8,8.6,8.3,8.2,8.1,8.0,7.9],
    "Oxford St Ebbes": [4.0,3.9,3.8,3.7,3.8,4.0,4.5,8.1,6.2,5.6,5.3,5.2,5.2,5.1,5.1,5.2,5.3,5.2,5.2,5.1,5.0,5.0,4.9,4.9],
    "Port Talbot Margam": [10.5,12.0,10.0,8.8,9.5,10.1,10.8,11.4,11.8,12.3,12.9,13.6,14.0,14.4,14.7,14.9,14.2,13.6,13.8,14.0,13.2,12.3,11.4,10.5],
    "Portsmouth": [7.2,7.0,6.8,6.6,6.7,6.9,7.0,7.1,7.3,7.5,7.4,7.3,7.2,7.1,7.0,7.0,7.1,7.2,7.3,7.4,7.5,7.7,7.9,8.1],
    "Reading New Town": [5.3,5.2,5.0,4.9,4.9,5.0,5.2,5.4,5.5,5.5,5.4,5.3,5.3,5.4,5.4,5.5,5.5,5.6,5.7,5.8,5.8,5.9,6.1,6.2],
    "Rochester Stoke": [3.6,3.6,3.5,3.5,3.4,3.3,3.3,3.2,3.1,3.1,3.0,3.0,2.9,2.9,3.0,3.0,3.1,3.2,3.3,3.3,3.4,3.5,3.6,3.7],
    "Salford Eccles": [2.8,2.6,2.4,2.2,2.2,2.3,2.8,3.4,3.6,3.7,3.5,3.4,3.3,3.1,3.0,2.9,2.8,2.7,2.6,2.2,1.7,2.0,2.3,2.6],
    "Sandy Roadside": [4.7,4.5,4.4,4.3,4.7,5.1,5.6,6.0,6.3,6.4,6.2,6.0,5.8,5.7,6.9,5.6,5.3,5.1,5.0,4.9,4.9,4.8,4.8,4.7],
    "Southampton Centre": [4.7,4.5,4.4,4.3,4.5,4.9,5.3,6.0,6.2,6.4,6.4,6.3,6.3,6.3,6.3,6.3,6.2,6.1,6.0,5.8,5.7,5.6,5.4,5.1],
    "Stanford-le-Hope Roadside": [3.8,3.8,3.8,3.8,4.1,4.4,4.8,5.1,5.6,6.0,5.7,5.4,5.7,6.0,6.2,6.3,5.8,5.3,4.9,4.7,4.3,4.0,3.9,3.8],
    "Storrington Roadside": [4.0,3.5,3.1,3.1,3.2,3.9,4.7,5.2,5.6,5.2,4.9,4.7,4.5,4.5,4.5,4.4,4.3,4.3,4.3,4.2,4.2,3.8,3.4,3.1],
    "Warrington": [1.0,0.9,0.8,0.8,1.1,1.4,1.7,2.0,2.2,2.3,2.2,2.1,2.1,2.0,2.0,2.0,1.9,1.8,1.7,1.6,1.5,1.4,1.4,1.4],
    "York Bootham": [2.8,2.9,3.0,3.0,3.0,3.0,3.1,3.1,3.0,3.0,3.0,3.0,3.0,3.0,3.0,3.0,2.9,2.9,2.8,2.8,2.8,2.8,2.7,2.7],
    "York Fishergate": [3.1,3.0,3.0,2.9,3.0,3.2,4.1,5.2,6.0,6.6,7.0,7.3,7.8,8.3,7.8,7.3,6.8,6.4,6.2,6.0,5.6,5.1,4.4,3.7],
}

# half-width of the confidence band per site, years 2010..2014
band_width = {
    "Aberdeen": [0.6, 0.6, 0.4, 0.4, 0.4],
    "Camden Kerbside": [0.6, 0.6, 0.5, 0.4, 0.4],
    "Cardiff Centre": [0.6, 0.6, 0.4, 0.4, 0.3],
    "Carlisle Roadside": [0.5, 0.6, 0.5, 0.4, 0.4],
    "Chesterfield Roadside": [0.4, 0.4, 0.4, 0.6, 0.4],
    "Derry": [0.5, 0.5, 0.5, 0.4, 0.4],
    "Leeds Headingley Kerbside": [1.0, 0.6, 0.6, 0.5, 0.6],
    "London Marylebone Road": [0.6, 0.6, 0.5, 0.5, 0.4],
    "Newport": [0.6, 0.4, 0.4, 0.4, 0.4],
    "Nottingham Centre": [0.5, 0.5, 0.4, 0.4, 0.4],
    "Port Talbot Margam": [1.5, 2.0, 1.5, 1.5, 2.5],
    "Portsmouth": [1.0, 0.4, 0.5, 0.4, 0.5],
    "Stanford-le-Hope Roadside": [0.5, 0.5, 0.6, 0.8, 0.5],
}
default_band = [0.4, 0.4, 0.4, 0.4, 0.4]

# (site, year, hour, lower, upper) for unusually wide intervals
band_spikes = [
    ("Aberdeen", 2011, 9, 6.8, 12.3),
    ("Bristol St Paul's", 2010, 8, 6.5, 9.0),
    ("Camden Kerbside", 2010, 10, 11.8, 20.9),
    ("Cardiff Centre", 2010, 5, 9.5, 20.9),
    ("Carlisle Roadside", 2011, 11, 12.8, 17.0),
    ("Carlisle Roadside", 2013, 8, 2.5, 5.5),
    ("Carlisle Roadside", 2013, 13, 2.5, 11.5),
    ("Leeds Centre", 2011, 6, 6.0, 10.0),
    ("Newcastle Centre", 2012, 18, 7.0, 9.5),
    ("Newport", 2010, 8, 6.0, 9.0),
    ("Newport", 2010, 13, 6.0, 9.5),
    ("Nottingham Centre", 2010, 13, 10.0, 22.5),
    ("Nottingham Centre", 2014, 7, 9.5, 13.5),
    ("Oxford St Ebbes", 2014, 7, 7.0, 9.0),
    ("Port Talbot Margam", 2014, 1, 7.0, 20.5),
    ("Portsmouth", 2010, 9, 11.3, 15.0),
    ("Sandy Roadside", 2014, 14, 6.0, 8.5),
    ("Stanford-le-Hope Roadside", 2012, 12, 8.0, 10.6),
]

series_by_year = [y2010, y2011, y2012, y2013, y2014]

# ---------------- geometry (pixels) ----------------
PLOT_L, PANEL_W = 43.5, 140.8
STRIP_T0, ROW_H, STRIP_H = 49.3, 122.7, 11.0
Y_RANGE = [-2.545, 26.76]
FONT = "Liberation Sans, Arial, sans-serif"
TICK_FONT = dict(family=FONT, size=9, color="#333333")
GRID = "#E6E6E6"
BORDER = "#3A3A3A"


def rgba(hexc, a):
    h = hexc.lstrip("#")
    return "rgba(%d,%d,%d,%.2f)" % (int(h[0:2], 16), int(h[2:4], 16), int(h[4:6], 16), a)


def px_x(p):
    return p / W


def px_y(p):
    return 1 - p / H


fig = go.Figure()
layout = {}
shapes = []
annotations = []

for i, site in enumerate(sites):
    r, c = divmod(i, 8)
    ax = "" if i == 0 else str(i + 1)
    left = PLOT_L + PANEL_W * c
    right = left + PANEL_W
    st = STRIP_T0 + ROW_H * r
    sb = st + STRIP_H
    bot = st + ROW_H

    layout["xaxis" + ax] = dict(
        domain=[px_x(left), px_x(right)], range=[0, 23], anchor="y" + ax,
        tickvals=x_ticks, showgrid=True, gridcolor=GRID, gridwidth=1,
        zeroline=False, showline=False,
        ticks="outside" if r == 4 else "", ticklen=4, tickcolor=BORDER,
        showticklabels=(r == 4 and c % 2 == 0), tickfont=TICK_FONT,
    )
    layout["yaxis" + ax] = dict(
        domain=[px_y(bot), px_y(sb)], range=Y_RANGE, anchor="x" + ax,
        tickvals=y_ticks, showgrid=True, gridcolor=GRID, gridwidth=1,
        zeroline=False, showline=False,
        ticks="outside" if c == 0 else "", ticklen=4, tickcolor=BORDER,
        showticklabels=(c == 0 and r % 2 == 0), tickfont=TICK_FONT,
    )

    widths = band_width.get(site, default_band)
    # bands first
    for k, yr in enumerate(years):
        vals = series_by_year[k].get(site)
        if vals is None:
            continue
        lo = [v - widths[k] for v in vals]
        hi = [v + widths[k] for v in vals]
        for (s, y_, h, l_, u_) in band_spikes:
            if s == site and y_ == yr:
                lo[h] = l_
                hi[h] = u_
        fig.add_trace(go.Scatter(
            x=hours + hours[::-1], y=hi + lo[::-1], fill="toself",
            fillcolor=rgba(year_colors[k], 0.35), line=dict(width=0),
            mode="lines", hoverinfo="skip", showlegend=False,
            xaxis="x" + ax, yaxis="y" + ax,
        ))
    for k, yr in enumerate(years):
        vals = series_by_year[k].get(site)
        if vals is None:
            continue
        fig.add_trace(go.Scatter(
            x=hours, y=vals, mode="lines",
            line=dict(color=year_colors[k], width=1.8),
            name=str(yr), showlegend=False, hoverinfo="skip",
            xaxis="x" + ax, yaxis="y" + ax,
        ))

    # strip and panel border
    shapes.append(dict(type="rect", xref="paper", yref="paper",
                       x0=px_x(left), x1=px_x(right), y0=px_y(sb), y1=px_y(st),
                       fillcolor="#FFE5CC", line=dict(color=BORDER, width=1), layer="above"))
    shapes.append(dict(type="rect", xref="paper", yref="paper",
                       x0=px_x(left), x1=px_x(right), y0=px_y(bot), y1=px_y(sb),
                       line=dict(color=BORDER, width=1), layer="above"))
    annotations.append(dict(text=site, xref="paper", yref="paper",
                            x=px_x((left + right) / 2), y=px_y((st + sb) / 2),
                            showarrow=False, xanchor="center", yanchor="middle",
                            font=dict(family=FONT, size=8.5, color="#222222")))

# top x-axes (ticks above the first row strips)
for c in range(8):
    base = "x" if c == 0 else "x" + str(c + 1)
    base_y = "y" if c == 0 else "y" + str(c + 1)
    ax_id = 41 + c
    layout["xaxis%d" % ax_id] = dict(
        overlaying=base, anchor="free", position=px_y(STRIP_T0), side="top",
        range=[0, 23], tickvals=x_ticks, showgrid=False, zeroline=False, showline=False,
        ticks="outside", ticklen=4, tickcolor=BORDER,
        showticklabels=(c % 2 == 1), tickfont=TICK_FONT,
    )
    fig.add_trace(go.Scatter(x=[None], y=[None], xaxis="x%d" % ax_id, yaxis=base_y,
                             showlegend=False, hoverinfo="skip"))

# right y-axes
for r in range(5):
    i = r * 8 + 7
    base_x = "x" + str(i + 1)
    base_y = "y" + str(i + 1)
    ax_id = 49 + r
    layout["yaxis%d" % ax_id] = dict(
        overlaying=base_y, anchor=base_x, side="right",
        range=Y_RANGE, tickvals=y_ticks, showgrid=False, zeroline=False, showline=False,
        ticks="outside", ticklen=4, tickcolor=BORDER,
        showticklabels=(r % 2 == 1), tickfont=TICK_FONT,
    )
    fig.add_trace(go.Scatter(x=[None], y=[None], xaxis=base_x, yaxis="y%d" % ax_id,
                             showlegend=False, hoverinfo="skip"))

# legend (key at the top)
for k, yr in enumerate(years):
    x0 = 388 + 93.5 * k
    shapes.append(dict(type="rect", xref="paper", yref="paper",
                       x0=px_x(x0), x1=px_x(x0 + 27.5), y0=px_y(21), y1=px_y(11),
                       fillcolor=year_colors[k], line=dict(width=0), opacity=0.95))
    annotations.append(dict(text=str(yr), xref="paper", yref="paper",
                            x=px_x(x0 + 39), y=px_y(16), showarrow=False,
                            xanchor="left", yanchor="middle",
                            font=dict(family=FONT, size=11, color="#333333")))

# axis titles
annotations.append(dict(text="coarse", xref="paper", yref="paper", x=px_x(11), y=px_y(357),
                        showarrow=False, textangle=-90, xanchor="center", yanchor="middle",
                        font=dict(family=FONT, size=10, color="#222222")))
annotations.append(dict(text="hour", xref="paper", yref="paper", x=px_x(607), y=px_y(692),
                        showarrow=False, xanchor="center", yanchor="middle",
                        font=dict(family=FONT, size=10, color="#222222")))

fig.update_layout(
    width=W, height=H, margin=dict(l=0, r=0, t=0, b=0),
    paper_bgcolor="white", plot_bgcolor="white",
    showlegend=False, shapes=shapes, annotations=annotations,
    font=dict(family=FONT),
    **layout,
)

fig.write_html("out.html")
